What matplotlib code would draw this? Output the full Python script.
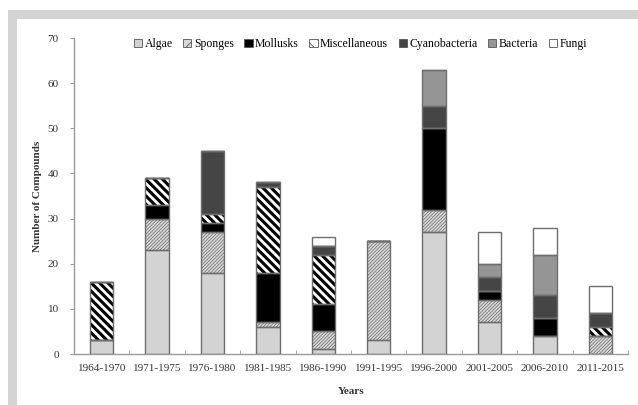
import matplotlib
matplotlib.use("Agg")
import matplotlib.pyplot as plt
import numpy as np
from matplotlib.patches import Rectangle

years = ["1964-1970", "1971-1975", "1976-1980", "1981-1985", "1986-1990",
         "1991-1995", "1996-2000", "2001-2005", "2006-2010", "2011-2015"]

algae = [3, 23, 18, 6, 1, 3, 27, 7, 4, 0]
sponges = [0, 7, 9, 1, 4, 22, 5, 5, 0, 4]
mollusks = [0, 3, 2, 11, 6, 0, 18, 2, 4, 0]
misc = [13, 6, 2, 19, 11, 0, 0, 0, 0, 2]
cyano = [0, 0, 14, 1, 2, 0, 5, 3, 5, 3]
bacteria = [0, 0, 0, 0, 0, 0, 8, 3, 9, 0]
fungi = [0, 0, 0, 0, 2, 0, 0, 7, 6, 6]

series = [
    ("Algae", algae, "#d3d3d3", None, "#d3d3d3", 0.5),
    ("Sponges", sponges, "#d8d8d8", "//////////", "#6a6a6a", 0.5),
    ("Mollusks", mollusks, "#000000", None, "#000000", 0.5),
    ("Miscellaneous", misc, "#ffffff", "\\\\\\\\", "#000000", 2.2),
    ("Cyanobacteria", cyano, "#454545", None, "#454545", 0.5),
    ("Bacteria", bacteria, "#959595", None, "#959595", 0.5),
    ("Fungi", fungi, "#ffffff", None, "#ffffff", 0.5),
]

plt.rcParams["font.family"] = ["Liberation Serif", "DejaVu Serif"]

fig = plt.figure(figsize=(6.38, 4.05), dpi=100)
# grey frame around the picture
fig.patches.append(Rectangle((8 / 638, 0), 1, 1 - 10 / 405, transform=fig.transFigure,
                             facecolor="#d4d4d4", edgecolor="none", zorder=-2))
fig.patches.append(Rectangle((17 / 638, 0), 1, 1 - 19 / 405, transform=fig.transFigure,
                             facecolor="white", edgecolor="none", zorder=-1))

ax = fig.add_axes([74 / 638, 1 - 354 / 405, 554 / 638, 316 / 405])
ax.patch.set_alpha(0)

x = np.arange(len(years))
w = 0.42
bottom = np.zeros(len(years))
handles = []
for name, vals, fc, hatch, hc, hlw in series:
    vals = np.array(vals, dtype=float)
    with plt.rc_context({"hatch.linewidth": hlw}):
        bars = ax.bar(x, vals, w, bottom=bottom, color=fc, edgecolor=hc,
                      hatch=hatch, linewidth=0, label=name, zorder=2)
    for b in bars:
        try:
            b.set_hatch_linewidth(hlw)
        except AttributeError:
            pass
    ax.bar(x, vals, w, bottom=bottom, facecolor="none", edgecolor="#6e6e6e",
           linewidth=1.0, zorder=3)
    handles.append(Rectangle((0, 0), 1, 1, facecolor=fc, edgecolor="#555555",
                             hatch=hatch and hatch[:3], linewidth=0.6))
    bottom += vals

ax.set_xlim(-0.5, len(years) - 0.5)
ax.set_ylim(0, 70)
ax.set_yticks(range(0, 71, 10))
ax.set_xticks(x)
ax.set_xticklabels(years)
ax.set_xticks(np.arange(-0.5, len(years)), minor=True)
ax.tick_params(axis="x", which="major", length=0, pad=7, labelsize=8, labelcolor="#333333")
ax.tick_params(axis="x", which="minor", length=3, direction="in", color="#9a9a9a")
ax.tick_params(axis="y", length=3, color="#9a9a9a", labelsize=8, labelcolor="#333333", pad=8)

for s in ["top", "right"]:
    ax.spines[s].set_visible(False)
for s in ["left", "bottom"]:
    ax.spines[s].set_color("#9a9a9a")
    ax.spines[s].set_linewidth(1.0)

ax.set_xlabel("Years", fontsize=8, fontweight="bold", color="#333333", labelpad=10)
ax.set_ylabel("Number of Compounds", fontsize=8, fontweight="bold", color="#333333", labelpad=4)

with plt.rc_context({"hatch.linewidth": 0.6}):
    ax.legend(handles, [s[0] for s in series], ncol=7, loc="upper center",
              bbox_to_anchor=(0.517, 1.015), frameon=False, fontsize=8.5,
              handlelength=0.7, handleheight=0.7, handletextpad=0.2,
              columnspacing=0.9, borderaxespad=0)

fig.savefig("out.png", dpi=100)
